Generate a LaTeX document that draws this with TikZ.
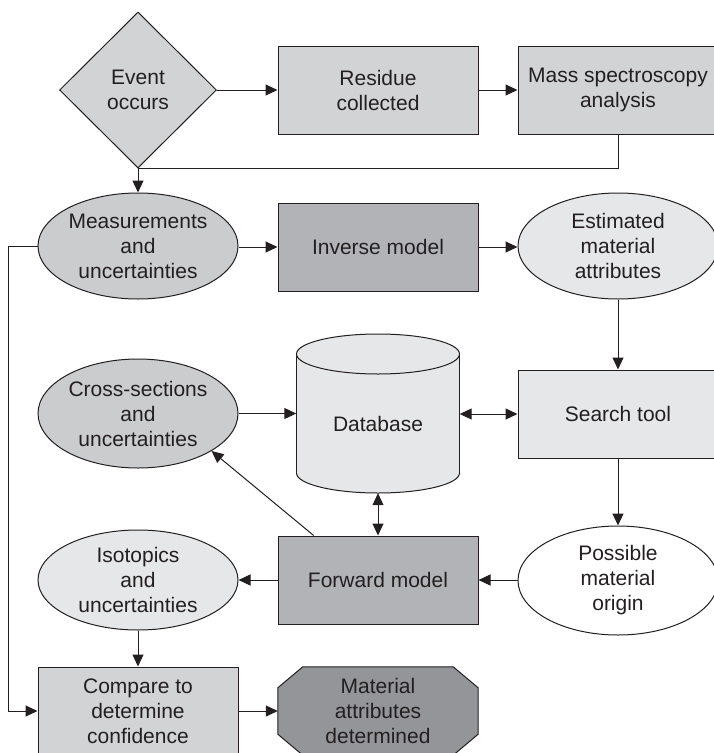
\documentclass[tikz,border=0pt]{standalone}
\usepackage{fontspec}
\setmainfont{Liberation Sans}
\usetikzlibrary{shapes.geometric,arrows.meta,backgrounds,calc}

\definecolor{ink}{HTML}{231F20}
\definecolor{lightfill}{HTML}{E6E7E8}
\definecolor{midfill}{HTML}{D1D3D4}
\definecolor{ovalfill}{HTML}{CBCCCE}
\definecolor{darkfill}{HTML}{B1B3B6}
\definecolor{endfill}{HTML}{939598}

\begin{document}
\begin{tikzpicture}[x=1pt,y=-1pt,
  every node/.style={font=\fontsize{21}{25}\selectfont, text=ink, align=center},
  box/.style={rectangle, draw=ink, line width=1pt, minimum width=200pt, minimum height=88pt, inner sep=0pt},
  oval/.style={ellipse, draw=ink, line width=1pt, minimum width=200pt, inner sep=0pt},
  link/.style={draw=ink, line width=1pt, -{Triangle[length=12pt,width=11pt]}},
  link2/.style={draw=ink, line width=1pt, {Triangle[length=12pt,width=11pt]}-{Triangle[length=12pt,width=11pt]}},
  plain/.style={draw=ink, line width=1pt}
]
\useasboundingbox (0,0) rectangle (714,753);

% first row
\node[diamond, draw=ink, line width=1pt, fill=midfill, minimum width=157pt, minimum height=156pt, inner sep=0pt] (ev) at (138,90) {Event\\occurs};
\node[box, fill=midfill] (rc) at (378,90) {Residue\\collected};
\node[box, fill=midfill] (ms) at (618,90) {Mass spectroscopy\\analysis};

% second row
\node[oval, fill=ovalfill, minimum height=106pt] (me) at (138,246) {Measurements\\and\\uncertainties};
\node[box, fill=darkfill] (im) at (378,247) {Inverse model};
\node[oval, fill=lightfill, minimum height=106pt] (ea) at (618,246) {Estimated\\material\\attributes};

% third row
\node[oval, fill=ovalfill, minimum height=109pt] (cs) at (138,413.5) {Cross-sections\\and\\uncertainties};
\node[rectangle, minimum width=163pt, minimum height=138pt, inner sep=0pt] (db) at (378,424) {Database};
\node[box, fill=lightfill] (st) at (618,414) {Search tool};

% fourth row
\node[oval, fill=lightfill, minimum height=100pt] (iso) at (138,580) {Isotopics\\and\\uncertainties};
\node[box, fill=darkfill] (fm) at (378,580) {Forward model};
\node[oval, fill=white, minimum height=109pt] (pm) at (618,580.5) {Possible\\material\\origin};

% last row
\node[box, fill=midfill] (cp) at (138,711) {Compare to\\determine\\confidence};
\node[rectangle, minimum width=200pt, minimum height=88pt, inner sep=0pt] (mat) at (378,711) {Material\\attributes\\determined};

\begin{scope}[on background layer]
  % database cylinder
  \filldraw[fill=lightfill, draw=ink, line width=1pt] (378,473) ellipse [x radius=81.5, y radius=20];
  \fill[lightfill] (296.5,354) rectangle (459.5,473);
  \draw[plain] (296.5,354) -- (296.5,473);
  \draw[plain] (459.5,354) -- (459.5,473);
  \filldraw[fill=lightfill, draw=ink, line width=1pt] (378,354) ellipse [x radius=81.5, y radius=20];
  % octagonal end box
  \filldraw[fill=endfill, draw=ink, line width=1pt]
    ([xshift=25pt]mat.north west) -- ([xshift=-25pt]mat.north east)
    -- ([yshift=-21pt]mat.north east) -- ([yshift=21pt]mat.south east)
    -- ([xshift=-25pt]mat.south east) -- ([xshift=25pt]mat.south west)
    -- ([yshift=21pt]mat.south west) -- ([yshift=-21pt]mat.north west) -- cycle;
\end{scope}

% connectors
\draw[link] (ev.east) -- (rc.west);
\draw[link] (rc.east) -- (ms.west);
\draw[plain] (ms.south) |- (ev.south);
\draw[link] (ev.south) -- (me.north);
\draw[link] (me.east |- im.west) -- (im.west);
\draw[link] (im.east) -- (im.east -| ea.west);
\draw[link] (ea.south) -- (st.north);
\draw[link] (cs.east) -- (cs.east -| db.west);
\draw[link2] (db.east |- st.west) -- (st.west);
\draw[link] (st.south) -- (pm.north);
\draw[link2] (db.south) -- (fm.north);
\draw[link] ($(fm.north west)!0.18!(fm.north east)$) -- (cs.-27);
\draw[link] (pm.west |- fm.east) -- (fm.east);
\draw[link] (fm.west) -- (fm.west -| iso.east);
\draw[link] (iso.south) -- (cp.north);
\draw[link] (me.west) -- ++(-29,0) |- (cp.west);
\draw[link] (cp.east) -- (mat.west);
\end{tikzpicture}
\end{document}
